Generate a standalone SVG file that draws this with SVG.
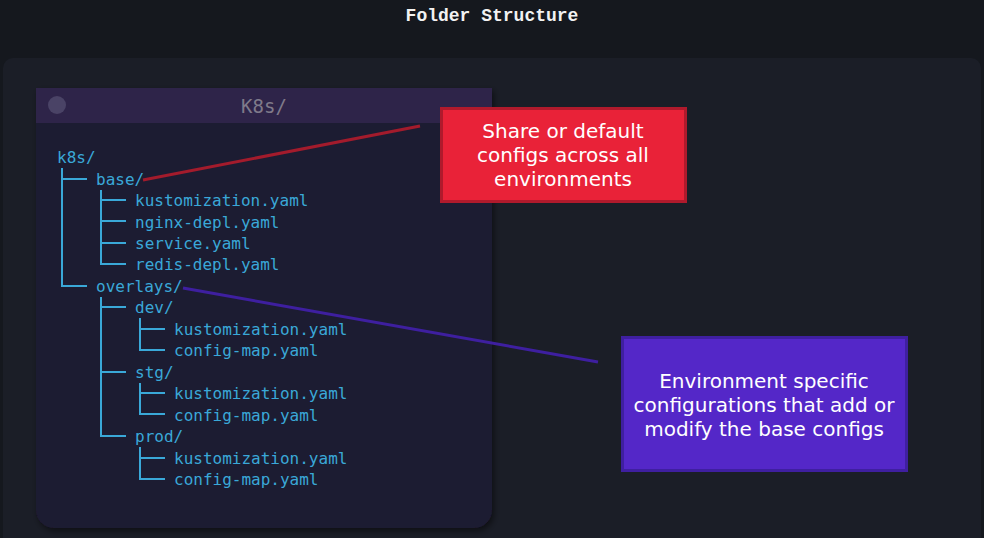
<svg xmlns="http://www.w3.org/2000/svg" width="984" height="538" viewBox="0 0 984 538">
<defs>
<style>
.tree{font-family:"DejaVu Sans Mono","Liberation Mono",monospace;font-size:16px;fill:#3aa8d8}
.tl{stroke:#3aa8d8;stroke-width:2;fill:none}
.note{font-family:"DejaVu Sans","Verdana",sans-serif;font-size:20px;fill:#ffffff;text-anchor:middle}
</style>
<filter id="sh" x="-10%" y="-10%" width="120%" height="120%"><feDropShadow dx="2" dy="3" stdDeviation="3" flood-color="#000" flood-opacity="0.5"/></filter>
</defs>
<rect width="984" height="538" fill="#15181e"/>
<text x="492" y="21" text-anchor="middle" font-family="Liberation Mono, monospace" font-weight="bold" font-size="18" fill="#f2f2f2">Folder Structure</text>
<rect x="3" y="58" width="978" height="500" rx="10" fill="#1b1e27"/>
<g id="window">
<path d="M36 88 H492 V510 a18 18 0 0 1 -18 18 H54 a18 18 0 0 1 -18 -18 Z" fill="#1e1a30" filter="url(#sh)"/>
<rect x="36" y="88" width="456" height="35" fill="#2e2449"/>
<circle cx="57" cy="105" r="9" fill="#4a4366"/>
<text x="264" y="113" text-anchor="middle" font-family="DejaVu Sans Mono, monospace" font-size="19" fill="#7f7a8a">K8s/</text>
</g>
<g id="tree">
<g class="tree">
<text x="57" y="163">k8s/</text>
<text x="96" y="185">base/</text>
<text x="135" y="206">kustomization.yaml</text>
<text x="135" y="228">nginx-depl.yaml</text>
<text x="135" y="249">service.yaml</text>
<text x="135" y="270">redis-depl.yaml</text>
<text x="96" y="292">overlays/</text>
<text x="135" y="313">dev/</text>
<text x="174" y="335">kustomization.yaml</text>
<text x="174" y="356">config-map.yaml</text>
<text x="135" y="378">stg/</text>
<text x="174" y="399">kustomization.yaml</text>
<text x="174" y="421">config-map.yaml</text>
<text x="135" y="442">prod/</text>
<text x="174" y="464">kustomization.yaml</text>
<text x="174" y="485">config-map.yaml</text>
</g>
<path class="tl" d="M62 168 V286 H87 M62 179 H87 M101 190 V264 H126 M101 200 H126 M101 221 H126 M101 243 H126 M101 297 V436 H126 M101 307 H126 M101 372 H126 M140 318 V350 H165 M140 329 H165 M140 383 V414 H165 M140 393 H165 M140 447 V479 H165 M140 458 H165"/>
</g>
<g id="connectors">
<line x1="143" y1="180" x2="420" y2="126" stroke="#a31b2c" stroke-width="3"/>
<line x1="183" y1="288" x2="598" y2="362" stroke="#3e1fa0" stroke-width="3"/>
</g>
<g id="note-base">
<rect x="441.5" y="108.5" width="244" height="93" fill="#e92238" stroke="#b01a2c" stroke-width="3"/>
<text class="note" x="563" y="138">Share or default</text>
<text class="note" x="563" y="162">configs across all</text>
<text class="note" x="563" y="186">environments</text>
</g>
<g id="note-overlays">
<rect x="622.5" y="337.5" width="284" height="133" fill="#5427c8" stroke="#3f1fa0" stroke-width="3"/>
<text class="note" x="764" y="388">Environment specific</text>
<text class="note" x="764" y="412">configurations that add or</text>
<text class="note" x="764" y="436">modify the base configs</text>
</g>
</svg>
